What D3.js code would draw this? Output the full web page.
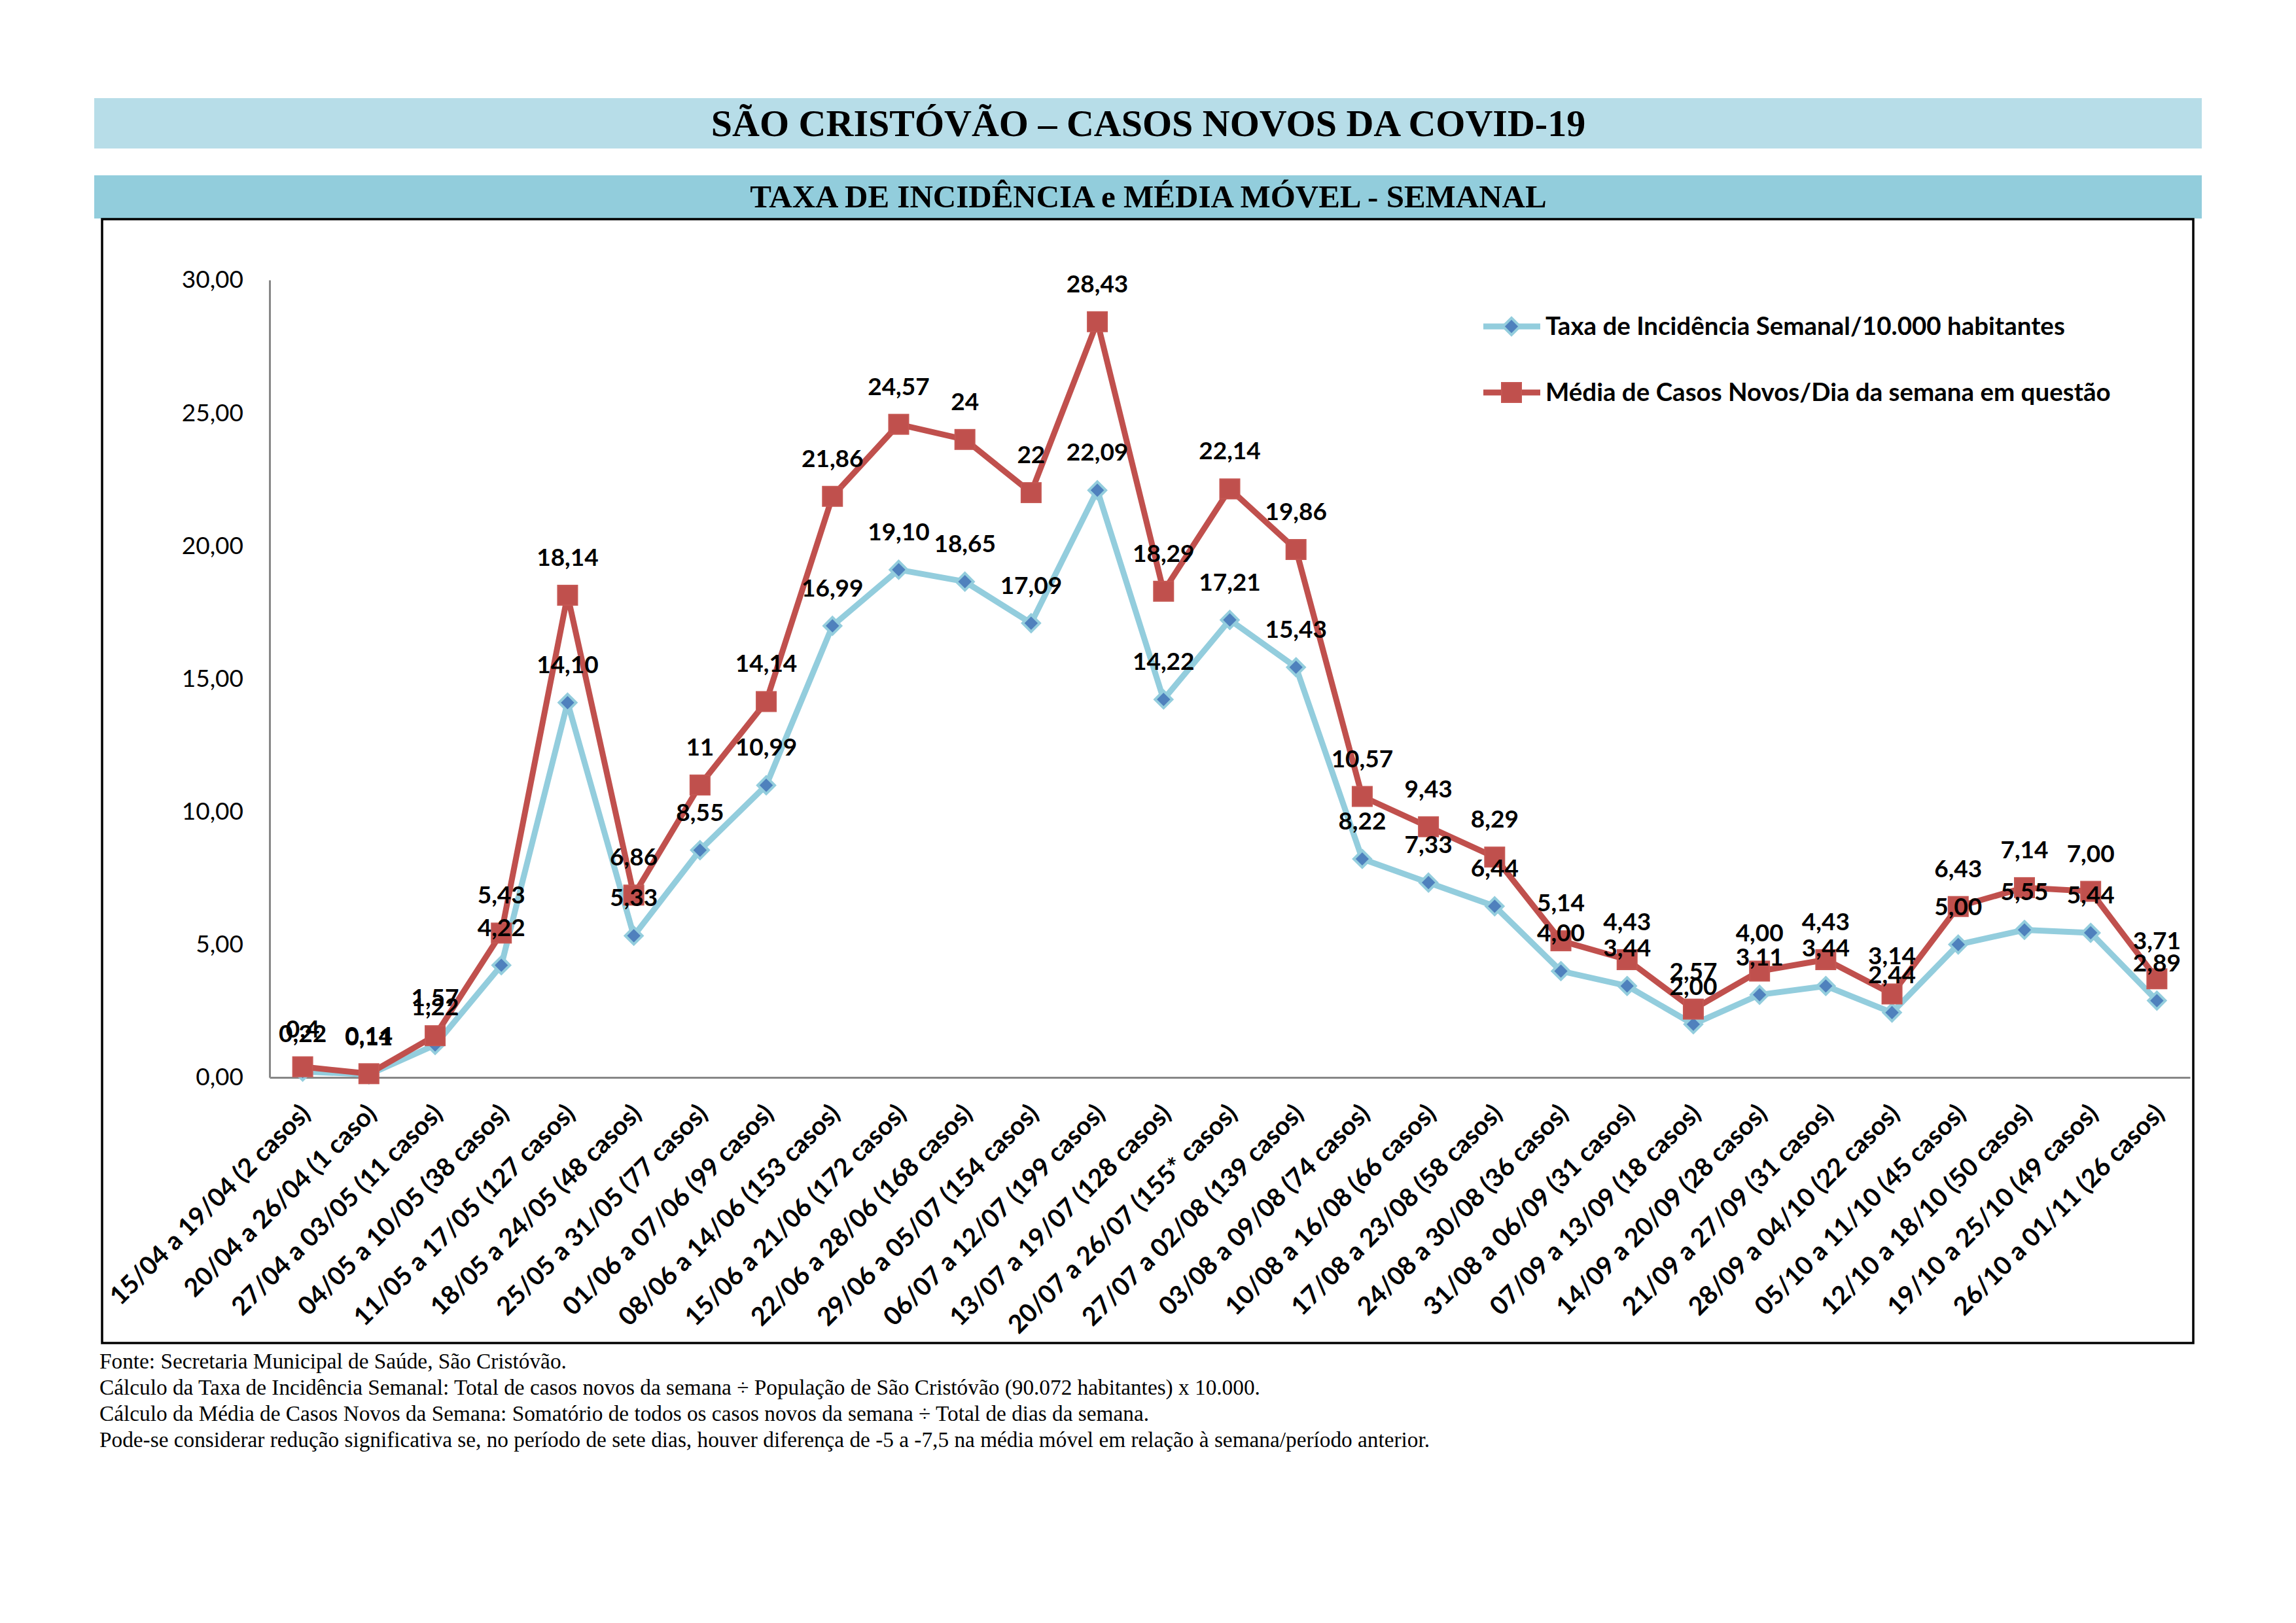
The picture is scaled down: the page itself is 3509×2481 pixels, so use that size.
<!DOCTYPE html>
<html lang="pt">
<head>
  <meta charset="UTF-8">
  <title>São Cristóvão – Casos novos da COVID-19</title>
  <script src="https://d3js.org/d3.v7.min.js"></script>
  <style>
    body { margin: 0; background: #fff; }
    svg { display: block; }
  </style>
</head>
<body>
  <div id="chart"></div>

  <script>
  // semanas (rótulos do eixo x)
  const weeks = [
    "15/04 a 19/04 (2 casos)", "20/04 a 26/04 (1 caso)", "27/04 a 03/05 (11 casos)",
    "04/05 a 10/05 (38 casos)", "11/05 a 17/05 (127 casos)", "18/05 a 24/05 (48 casos)",
    "25/05 a 31/05 (77 casos)", "01/06 a 07/06 (99 casos)", "08/06 a 14/06 (153 casos)",
    "15/06 a 21/06 (172 casos)", "22/06 a 28/06 (168 casos)", "29/06 a 05/07 (154 casos)",
    "06/07 a 12/07 (199 casos)", "13/07 a 19/07 (128 casos)", "20/07 a 26/07 (155* casos)",
    "27/07 a 02/08 (139 casos)", "03/08 a 09/08 (74 casos)", "10/08 a 16/08 (66 casos)",
    "17/08 a 23/08 (58 casos)", "24/08 a 30/08 (36 casos)", "31/08 a 06/09 (31 casos)",
    "07/09 a 13/09 (18 casos)", "14/09 a 20/09 (28 casos)", "21/09 a 27/09 (31 casos)",
    "28/09 a 04/10 (22 casos)", "05/10 a 11/10 (45 casos)", "12/10 a 18/10 (50 casos)",
    "19/10 a 25/10 (49 casos)", "26/10 a 01/11 (26 casos)"
  ];

  // taxa de incidência semanal / 10.000 habitantes
  const taxa = [0.22, 0.11, 1.22, 4.22, 14.10, 5.33, 8.55, 10.99, 16.99, 19.10, 18.65, 17.09,
    22.09, 14.22, 17.21, 15.43, 8.22, 7.33, 6.44, 4.00, 3.44, 2.00, 3.11, 3.44, 2.44, 5.00,
    5.55, 5.44, 2.89];

  // média de casos novos / dia
  const media = [0.4, 0.14, 1.57, 5.43, 18.14, 6.86, 11, 14.14, 21.86, 24.57, 24, 22,
    28.43, 18.29, 22.14, 19.86, 10.57, 9.43, 8.29, 5.14, 4.43, 2.57, 4.00, 4.43, 3.14, 6.43,
    7.14, 7.00, 3.71];

  // rótulos de dados da média, como aparecem no original
  const mediaLabels = ["0,4", "0,14", "1,57", "5,43", "18,14", "6,86", "11", "14,14", "21,86",
    "24,57", "24", "22", "28,43", "18,29", "22,14", "19,86", "10,57", "9,43", "8,29", "5,14",
    "4,43", "2,57", "4,00", "4,43", "3,14", "6,43", "7,14", "7,00", "3,71"];

  const yTicks = [0, 5, 10, 15, 20, 25, 30];

  const series = [
    { name: "Taxa de Incidência Semanal/10.000 habitantes", values: taxa, type: "diamond" },
    { name: "Média de Casos Novos/Dia da semana em questão", values: media, type: "square" }
  ];

  const W = 3509, H = 2481;
  const blueLine = "#93cddd", blueMark = "#4f81bd", red = "#c0504d";
  const br = d3.formatLocale({ decimal: ",", thousands: ".", grouping: [3], currency: ["R$", ""] });
  const fmt2 = br.format(".2f");

  const svg = d3.select("#chart").append("svg")
    .attr("width", W).attr("height", H)
    .attr("viewBox", `0 0 ${W} ${H}`);

  svg.append("rect").attr("width", W).attr("height", H).attr("fill", "#fff");

  // faixas de título
  svg.append("rect").attr("x", 144).attr("y", 150).attr("width", 3221).attr("height", 77)
    .attr("fill", "#b7dde8");
  svg.append("rect").attr("x", 144).attr("y", 268).attr("width", 3221).attr("height", 66)
    .attr("fill", "#92cddc");

  svg.append("text").attr("x", 1755).attr("y", 208)
    .attr("text-anchor", "middle")
    .style("font-family", "'Liberation Serif', 'Times New Roman', serif")
    .style("font-weight", "bold").style("font-size", "58px")
    .text("SÃO CRISTÓVÃO – CASOS NOVOS DA COVID-19");

  svg.append("text").attr("x", 1755).attr("y", 317)
    .attr("text-anchor", "middle")
    .style("font-family", "'Liberation Serif', 'Times New Roman', serif")
    .style("font-weight", "bold").style("font-size", "49px")
    .text("TAXA DE INCIDÊNCIA e MÉDIA MÓVEL - SEMANAL");

  // moldura do gráfico
  svg.append("rect").attr("x", 156).attr("y", 335).attr("width", 3196).attr("height", 1718)
    .attr("fill", "none").attr("stroke", "#000").attr("stroke-width", 3.5);

  // escalas
  const x = d3.scaleBand().domain(d3.range(weeks.length)).range([412, 3347]);
  const cx = i => x(i) + x.bandwidth() / 2;
  const y = d3.scaleLinear().domain([0, 30]).range([1647, 428]);

  // eixo y
  const yAxis = svg.append("g").attr("transform", "translate(412,0)")
    .call(d3.axisLeft(y).tickValues(yTicks).tickSize(0).tickPadding(40).tickFormat(fmt2));
  yAxis.select(".domain").attr("stroke", "#878787").attr("stroke-width", 3);
  yAxis.selectAll("text")
    .style("font-family", "Lato, 'Open Sans', sans-serif")
    .style("font-size", "37px").attr("fill", "#000");

  // eixo x
  const xAxis = svg.append("g").attr("transform", "translate(0,1647)")
    .call(d3.axisBottom(x).tickSize(0).tickFormat(i => weeks[i]));
  xAxis.select(".domain").attr("stroke", "#878787").attr("stroke-width", 3);
  xAxis.selectAll(".tick text")
    .attr("text-anchor", "end")
    .attr("x", 4).attr("y", 48).attr("dy", "0.35em")
    .attr("transform", "rotate(-45 4 48)")
    .style("font-family", "Lato, 'Open Sans', sans-serif")
    .style("font-weight", "bold").style("font-size", "39px").attr("fill", "#000");

  // linhas
  const line = d3.line().x((d, i) => cx(i)).y(d => y(d));

  function drawMarkers(g, s, px, py) {
    if (s.type === "diamond") {
      g.append("path")
        .attr("d", `M${px},${py - 13}L${px + 13},${py}L${px},${py + 13}L${px - 13},${py}Z`)
        .attr("fill", blueMark).attr("stroke", blueLine).attr("stroke-width", 4);
    } else {
      g.append("rect").attr("x", px - 15).attr("y", py - 15)
        .attr("width", 30).attr("height", 30)
        .attr("fill", red).attr("stroke", "#c55753").attr("stroke-width", 2);
    }
  }

  series.forEach(s => {
    const color = s.type === "diamond" ? blueLine : red;
    svg.append("path").datum(s.values)
      .attr("d", line).attr("fill", "none")
      .attr("stroke", color).attr("stroke-width", 9)
      .attr("stroke-linejoin", "round");
    const g = svg.append("g");
    s.values.forEach((v, i) => drawMarkers(g, s, cx(i), y(v)));
  });

  // rótulos de dados
  const labels = svg.append("g")
    .style("font-family", "Lato, 'Open Sans', sans-serif")
    .style("font-weight", "bold").style("font-size", "37px");

  labels.selectAll("text.taxa").data(taxa).enter().append("text")
    .attr("x", (d, i) => cx(i)).attr("y", d => y(d) - 45)
    .attr("text-anchor", "middle").text(d => fmt2(d));

  labels.selectAll("text.media").data(media).enter().append("text")
    .attr("x", (d, i) => cx(i)).attr("y", d => y(d) - 45)
    .attr("text-anchor", "middle").text((d, i) => mediaLabels[i]);

  // legenda
  const leg = svg.append("g")
    .style("font-family", "Lato, 'Open Sans', sans-serif")
    .style("font-weight", "bold").style("font-size", "38.5px");
  series.forEach((s, k) => {
    const ly = 499 + k * 101;
    const color = s.type === "diamond" ? blueLine : red;
    leg.append("line").attr("x1", 2267).attr("x2", 2354).attr("y1", ly).attr("y2", ly)
      .attr("stroke", color).attr("stroke-width", 9);
    drawMarkers(leg, s, 2310, ly);
    leg.append("text").attr("x", 2362).attr("y", ly + 13).text(s.name);
  });

  // notas de rodapé
  const notes = [
    "Fonte: Secretaria Municipal de Saúde, São Cristóvão.",
    "Cálculo da Taxa de Incidência Semanal: Total de casos novos da semana ÷ População de São Cristóvão (90.072 habitantes) x 10.000.",
    "Cálculo da Média de Casos Novos da Semana: Somatório de todos os casos novos da semana ÷ Total de dias da semana.",
    "Pode-se considerar redução significativa se, no período de sete dias, houver diferença de -5 a -7,5 na média móvel em relação à semana/período anterior."
  ];
  svg.append("g")
    .style("font-family", "'Liberation Serif', 'Times New Roman', serif")
    .style("font-size", "33.3px")
    .selectAll("text").data(notes).enter().append("text")
    .attr("x", 152).attr("y", (d, i) => 2092 + i * 40)
    .text(d => d);
  </script>
</body>
</html>
